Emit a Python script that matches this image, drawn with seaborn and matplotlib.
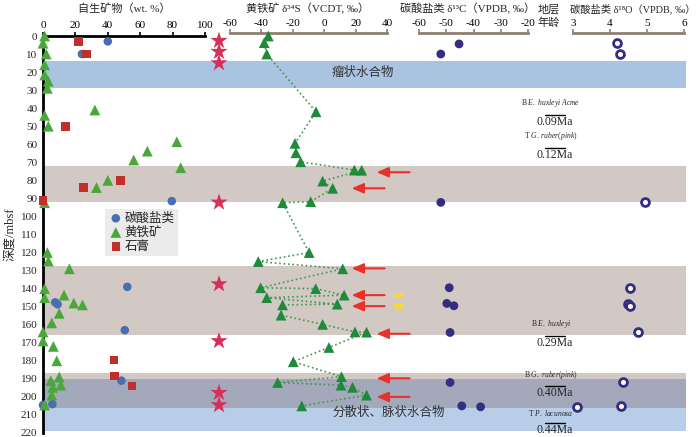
import numpy as np
import pandas as pd
import matplotlib
matplotlib.use("Agg")
import matplotlib.pyplot as plt
import seaborn as sns

# authigenic minerals (wt. %) vs depth (mbsf)
carb_wt = [40, 24, 79.5, 52, 7.5, 9, 50.5, 48.4, 5.8, 0]
carb_depth = [3, 10, 91.5, 139, 147.6, 148.7, 163, 191, 204, 204.5]
gyp_wt = [22, 27, 14, 25, 48, 0, 43.7, 44.3, 55]
gyp_depth = [3, 10, 50, 84, 80, 91.3, 179.6, 188.5, 194]
pyr_wt = [1, 0, 2, 1, 1, 3.3, 2.7, 32, 1, 3.3, 82.6, 64.4, 56, 85, 40, 33, 1,
          2.7, 3.3, 16.3, 1, 13, 1, 19, 24.4, 10, 5.4, 0, 0, 6.4, 8.5, 10, 4.8,
          11, 6, 5.4, 1]
pyr_depth = [0, 4, 10, 16, 21.6, 25, 29, 41, 44, 50, 58.6, 63.8, 68.7, 73, 80,
             84, 92.4, 120, 124.7, 129, 140, 143.6, 145, 148, 149, 153.7, 159,
             164, 169, 172, 180, 189, 191, 193.5, 194.7, 199, 204.5]
star_depth = [2.6, 8.7, 15, 92.2, 137.5, 169, 197.7, 204.5]

# pyrite d34S
s34_depth = [0, 3.7, 10, 42, 59.5, 64.7, 69.7, 74.3, 74.4, 80.4, 84.4, 91.8,
             92.4, 120, 125, 129, 139.5, 140, 143.6, 145, 148.6, 149, 154.7,
             159.8, 164, 164.1, 172.6, 180.5, 188.8, 192, 193.5, 194.7, 199, 205]
s34_val = [-35.6, -38.2, -36.6, -5.2, -18.6, -18, -15, 19.2, 23.9, -1, 5.4,
           -8.6, -26.5, -9.6, -42, 11.8, -40.5, -5.4, 12.7, -36.6, 8.3, -26.5,
           -27.5, -1, 19.6, 27, 3, -19.7, 11, -29.7, 10.7, 18, 27, -14.3]
arrow_depth = [75.5, 84.4, 128.8, 143.6, 149.7, 165, 189.7, 200]
arrow_tip = [33.4, 17.5, 17.5, 17.5, 17.5, 33.4, 33.4, 33.4]
yellow_depth = [143.6, 149.7]

# carbonate d13C / d18O
c13_depth = [4.4, 10, 92.2, 139.5, 148.2, 149.5, 164.3, 192, 205, 205.5]
c13_val = [-45.3, -52, -52, -48.9, -49.8, -47.2, -48.6, -48.6, -44.3, -37.4]
o18_depth = [4, 10, 91.8, 139.5, 148.6, 149.5, 164.3, 192, 205, 205.5]
o18_val = [4.2, 4.27, 4.95, 4.54, 4.48, 4.54, 4.77, 4.34, 4.3, 3.1]

# hydrate / lithology bands
band_top = [14, 72, 127.5, 187, 190, 206]
band_bottom = [29, 92, 165.7, 190, 206, 219]
band_color = ["#a9c3e1", "#d3c9c4", "#d3c9c4", "#d3c9c4", "#a3a9bb", "#b8cde8"]

# biostratigraphic ages
age_depth = [43.8, 62, 166.2, 194, 214.5]
age_marker = [r"B $\it{E.\ huxleyi\ Acme}$", r"T $\it{G.\ ruber(pink)}$",
              r"B $\it{E.\ huxleyi}$", r"B $\it{G.\ ruber(pink)}$",
              r"T $\it{P.\ lacunosa}$"]
age_value = ["0.09Ma", "0.12Ma", "0.29Ma", "0.40Ma", "0.44Ma"]

sns.set_style("white")
plt.rcParams['font.family'] = ['Liberation Serif', 'DejaVu Serif', 'Noto Sans CJK SC']
plt.rcParams['axes.unicode_minus'] = False
plt.rcParams['mathtext.fontset'] = 'custom'
plt.rcParams['mathtext.rm'] = 'Liberation Serif'
plt.rcParams['mathtext.it'] = 'Liberation Serif:italic'

W, H = 700, 437
fig = plt.figure(figsize=(7, 4.37), dpi=100)


def add_axes(x0, x1):
    y_top, y_bot = 36, 433
    return fig.add_axes([x0 / W, 1 - y_bot / H, (x1 - x0) / W, (y_bot - y_top) / H])


grey = "#8e8070"

# background bands
bg = add_axes(43, 686)
bg.set_xlim(0, 1)
bg.set_ylim(220, 0)
bg.axis("off")
for t, b, c in zip(band_top, band_bottom, band_color):
    bg.axhspan(t, b, color=c, lw=0, zorder=0)
bg.text((363 - 43) / 643, 20.5, "瘤状水合物", ha="center", va="center", fontsize=9, color="#333333")
bg.text((389 - 43) / 643, 209, "分散状、脉状水合物", ha="center", va="center", fontsize=9, color="#333333")
for d, m, v in zip(age_depth, age_marker, age_value):
    xc = (555 - 43) / 643
    bg.plot([(545 - 43) / 643, (565 - 43) / 643], [d, d], color="black", lw=1)
    bg.annotate(m, ((551 - 43) / 643, d), xytext=(0, 4), textcoords="offset points",
                ha="center", va="bottom", fontsize=5.5)
    bg.annotate(v, (xc, d), xytext=(0, -1), textcoords="offset points",
                ha="center", va="top", fontsize=8.5)


def style_top(ax, color, ticks):
    for s in ["bottom", "right", "left"]:
        ax.spines[s].set_visible(False)
    ax.spines["top"].set_color(color)
    ax.spines["top"].set_linewidth(2)
    ax.patch.set_alpha(0)
    ax.xaxis.tick_top()
    ax.set_xticks(ticks)
    ax.tick_params(axis="x", direction="out", length=3, width=1.2, color=color,
                   labelcolor="black", labelsize=8, pad=1)
    ax.set_xlabel("")
    ax.set_ylabel("")


# panel 1: authigenic minerals
ax1 = add_axes(43, 205)
sns.scatterplot(x=carb_wt, y=carb_depth, ax=ax1, marker="o", s=38, color="#4a6fb0",
                edgecolor="none", label="碳酸盐类", clip_on=False, zorder=4)
sns.scatterplot(x=pyr_wt, y=pyr_depth, ax=ax1, marker="^", s=60, color="#4aa83b",
                edgecolor="none", label="黄铁矿", clip_on=False, zorder=4)
sns.scatterplot(x=gyp_wt, y=gyp_depth, ax=ax1, marker="s", s=38, color="#c0302b",
                edgecolor="none", label="石膏", clip_on=False, zorder=4)
ax1.set_xlim(0, 100)
ax1.set_ylim(220, 0)
style_top(ax1, "black", range(0, 101, 20))
ax1.spines["left"].set_visible(True)
ax1.spines["left"].set_color("black")
ax1.spines["left"].set_linewidth(2)
ax1.set_yticks(range(0, 221, 10))
ax1.tick_params(axis="y", direction="out", length=2, width=1.5, labelsize=8, pad=2)
ax1.set_ylabel("深度/mbsf", fontsize=9, labelpad=3)
ax1.legend(loc="upper left", bbox_to_anchor=(0.38, 0.565), frameon=True,
           facecolor="#ebebeb", edgecolor="none", framealpha=1, fontsize=9,
           handletextpad=0.1, borderpad=0.3, labelspacing=0.15, handlelength=1.2,
           borderaxespad=0, fancybox=False)

# stars column
axs = add_axes(211, 227)
sns.scatterplot(x=[0.5] * len(star_depth), y=star_depth, ax=axs, marker="*", s=170,
                color="#d6305a", edgecolor="none", clip_on=False, zorder=4)
axs.set_xlim(0, 1)
axs.set_ylim(220, 0)
axs.axis("off")

# panel 2: pyrite d34S
ax2 = add_axes(230, 387)
s34 = pd.DataFrame({"val": s34_val, "depth": s34_depth})
sns.lineplot(data=s34, x="val", y="depth", ax=ax2, sort=False, estimator=None,
             color="#3d9a4c", lw=1.2, linestyle=":", zorder=3)
sns.scatterplot(data=s34, x="val", y="depth", ax=ax2, marker="^", s=60,
                color="#1f8a3a", edgecolor="none", clip_on=False, zorder=4)
for d, tip in zip(arrow_depth, arrow_tip):
    ax2.annotate("", xy=(tip, d), xytext=(tip + 21, d), annotation_clip=False,
                 arrowprops=dict(arrowstyle="-|>,head_length=0.7,head_width=0.3",
                                 color="#e8312a", lw=1.5, shrinkA=0, shrinkB=0))
for d in yellow_depth:
    ax2.plot([43.8, 50.2], [d, d], color="#f5d742", lw=3.5, clip_on=False,
             solid_capstyle="butt")
ax2.set_xlim(-60, 40)
ax2.set_ylim(220, 0)
style_top(ax2, grey, range(-60, 41, 20))
ax2.spines["top"].set_position(("outward", 2))
ax2.set_yticks([])

# panel 3: carbonate d13C
ax3 = add_axes(419, 528)
sns.scatterplot(x=c13_val, y=c13_depth, ax=ax3, marker="o", s=40, color="#352d84",
                edgecolor="none", clip_on=False, zorder=4)
ax3.set_xlim(-60, -20)
ax3.set_ylim(220, 0)
style_top(ax3, grey, range(-60, -19, 10))
ax3.spines["top"].set_position(("outward", 2))
ax3.set_yticks([])

# panel 4: carbonate d18O
ax4 = add_axes(573, 684)
sns.scatterplot(x=o18_val, y=o18_depth, ax=ax4, marker="o", s=32, facecolor="white",
                edgecolor="#352d84", linewidth=2, clip_on=False, zorder=4)
ax4.set_xlim(3, 6)
ax4.set_ylim(220, 0)
style_top(ax4, grey, range(3, 7))
ax4.spines["top"].set_position(("outward", 2))
ax4.set_yticks([])

# column titles
ty = 1 - 9 / H
fs = 8
fig.text(124 / W, ty, "自生矿物（wt. %）", ha="center", va="center", fontsize=fs)
fig.text(308 / W, ty, "黄铁矿 δ³⁴S（VCDT, ‰）", ha="center", va="center", fontsize=fs)
fig.text(468 / W, ty, "碳酸盐类 δ¹³C（VPDB, ‰）", ha="center", va="center", fontsize=fs)
fig.text(549 / W, ty, "地层", ha="center", va="center", fontsize=fs)
fig.text(549 / W, 1 - 23 / H, "年龄", ha="center", va="center", fontsize=fs)
fig.text(633 / W, ty, "碳酸盐类 δ¹⁸O（VPDB, ‰）", ha="center", va="center", fontsize=7.4)

fig.savefig("out.png", dpi=100)
